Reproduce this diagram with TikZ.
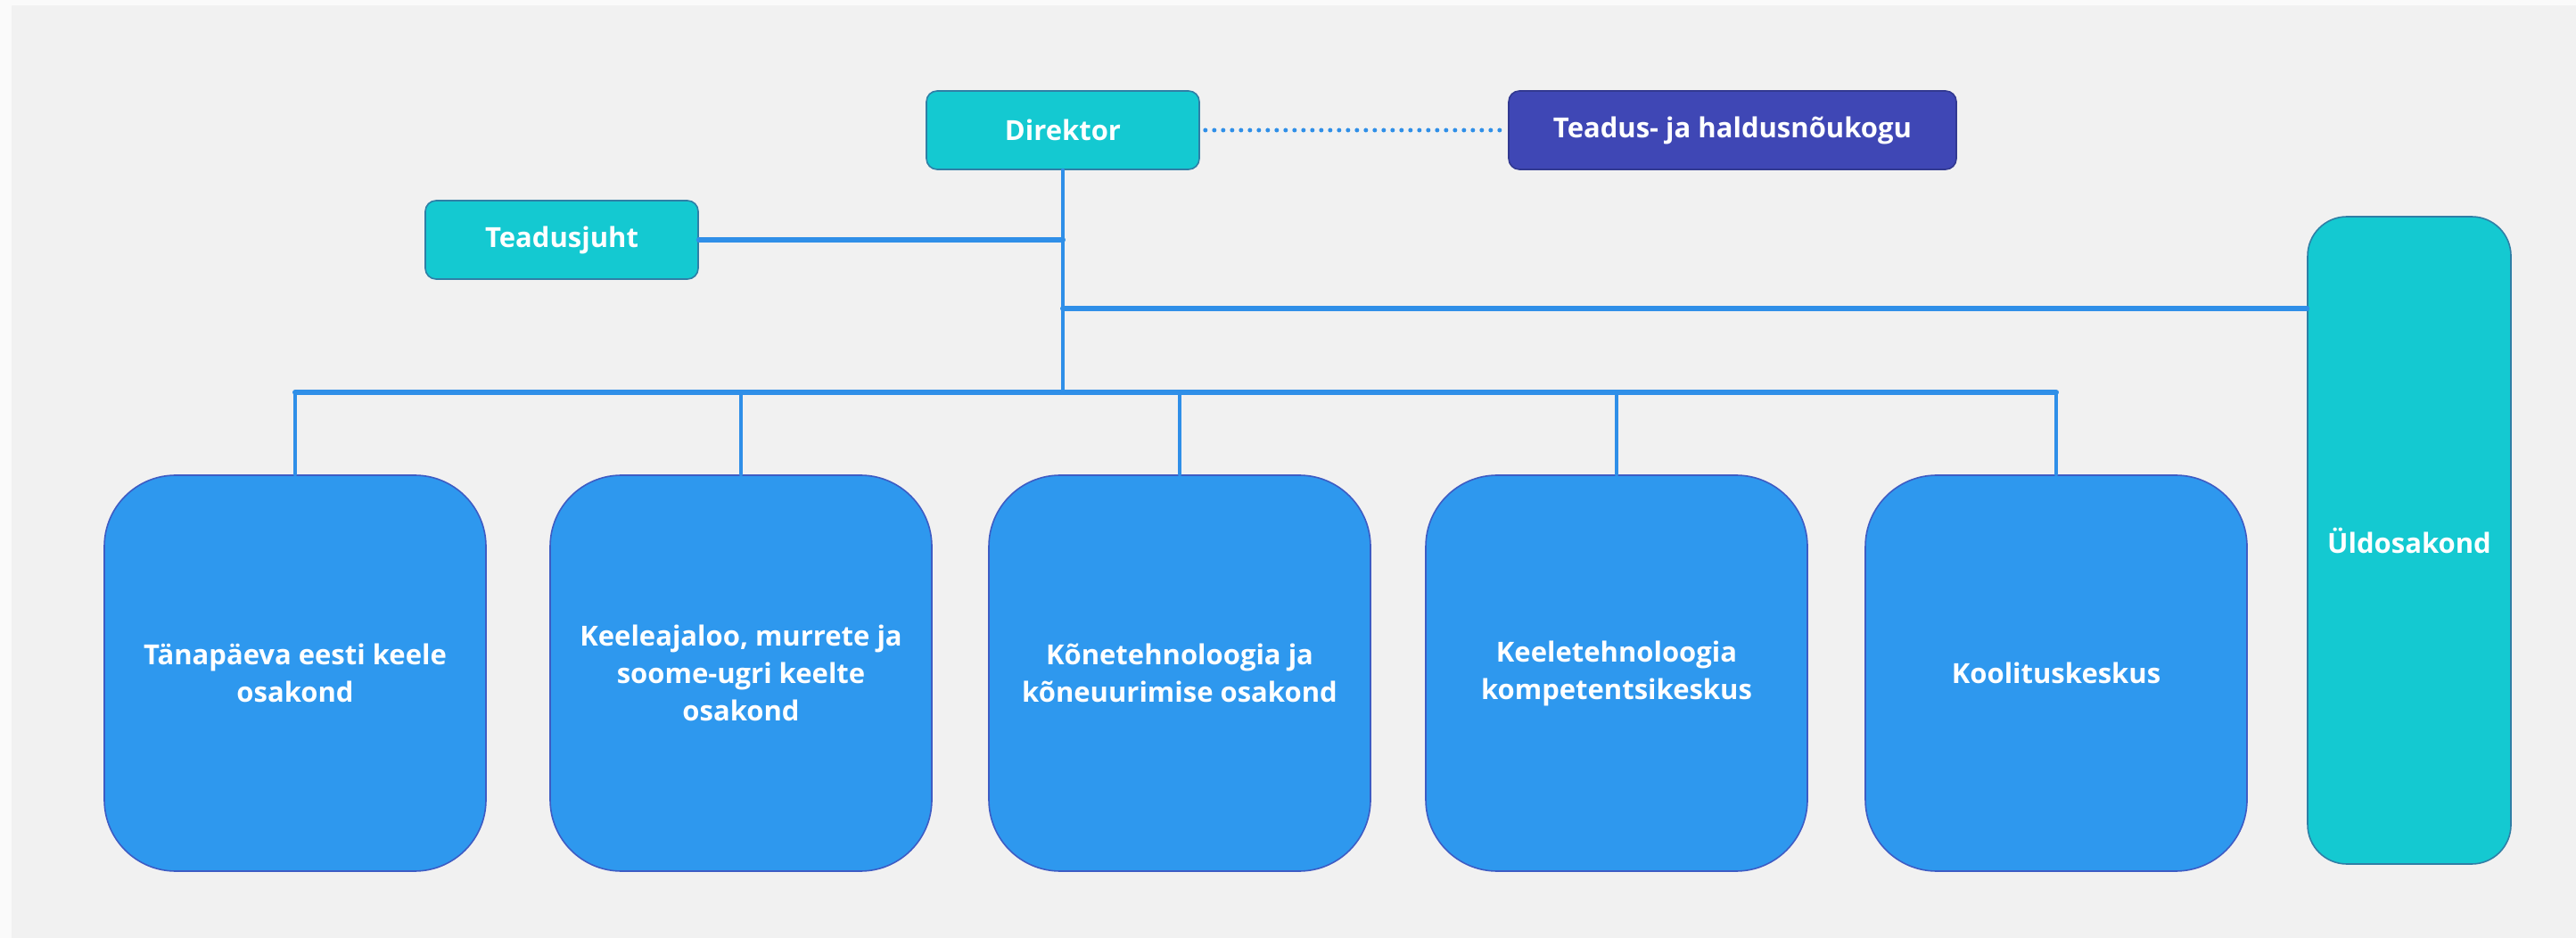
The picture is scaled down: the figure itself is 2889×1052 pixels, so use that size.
\documentclass[tikz,border=0pt]{standalone}
\usepackage{fontspec}
\setmainfont{Open Sans}
\usepackage{tikz}

\definecolor{pagebg}{HTML}{F1F1F1}
\definecolor{pagerim}{HTML}{FAFAFA}
\definecolor{tealbox}{HTML}{14C9D1}
\definecolor{tealrim}{HTML}{2F7FA6}
\definecolor{navybox}{HTML}{3F47B5}
\definecolor{bluebox}{HTML}{2E98EE}
\definecolor{bluerim}{HTML}{3D5CC4}
\definecolor{linkblue}{HTML}{2F8FE8}

\begin{document}
\begin{tikzpicture}[line cap=round,line join=round,x=0.5pt,y=-0.5pt,
  boxtext/.style={text=white,font=\bfseries\fontsize{15.5}{21}\selectfont,align=center,inner sep=0pt},
  headbox/.style={boxtext,draw=tealrim,line width=0.8pt,fill=tealbox,rounded corners=6pt,
    minimum width=153pt,minimum height=44pt},
  councilbox/.style={boxtext,draw=navybox!80!black,line width=0.8pt,fill=navybox,rounded corners=6pt,
    minimum width=251pt,minimum height=44pt},
  deptbox/.style={boxtext,draw=bluerim,line width=0.8pt,fill=bluebox,rounded corners=40pt,
    minimum width=214pt,minimum height=222pt},
  sidebox/.style={boxtext,draw=tealrim,line width=0.8pt,fill=tealbox,rounded corners=22pt,
    minimum width=114pt,minimum height=363pt},
  bar/.style={draw=linkblue,line width=3pt},
  drop/.style={draw=linkblue,line width=2pt}]
				% page
				\fill[pagerim] (0,0) rectangle (2889,1052);
				\fill[pagebg] (13,6) rectangle (2889,1052);
				\useasboundingbox (0,0) rectangle (2889,1052);

				% top level
				\node[headbox] (direktor) at (1192,146) {Direktor};
				\node[councilbox] (noukogu) at (1943,146) {Teadus- ja haldusnõukogu};
				\node[headbox] (teadusjuht) at (630,269) {Teadusjuht};
				\node[sidebox] (yld) at (2702,606) {Üldosakond};

				% departments
				\node[deptbox] (dep1) at (331,755) {Tänapäeva eesti keele\\osakond};
				\node[deptbox] (dep2) at (831,755) {Keeleajaloo, murrete ja\\soome-ugri keelte\\osakond};
				\node[deptbox] (dep3) at (1323,755) {Kõnetehnoloogia ja\\kõneuurimise osakond};
				\node[deptbox] (dep4) at (1813,755) {Keeletehnoloogia\\kompetentsikeskus};
				\node[deptbox] (dep5) at (2306,755) {Koolituskeskus};

				% links
				\draw[linkblue,line width=2.5pt,line cap=round,dash pattern=on 0pt off 5pt]
					(direktor.east) ++(6,0) -- ([xshift=-3pt]noukogu.west);
				\coordinate (bus) at (direktor.south |- 0,440);
				\draw[drop] (direktor.south) -- (bus);
				\draw[bar] (teadusjuht.east) -- (direktor.south |- teadusjuht.east);
				\draw[bar] (direktor.south |- 0,346) -- (yld.west |- 0,346);
				\draw[bar] (dep1.north |- bus) -- (dep5.north |- bus);
				\foreach \d in {1,...,5}
				\draw[drop] (dep\d.north |- bus) -- (dep\d.north);
\end{tikzpicture}
\end{document}
